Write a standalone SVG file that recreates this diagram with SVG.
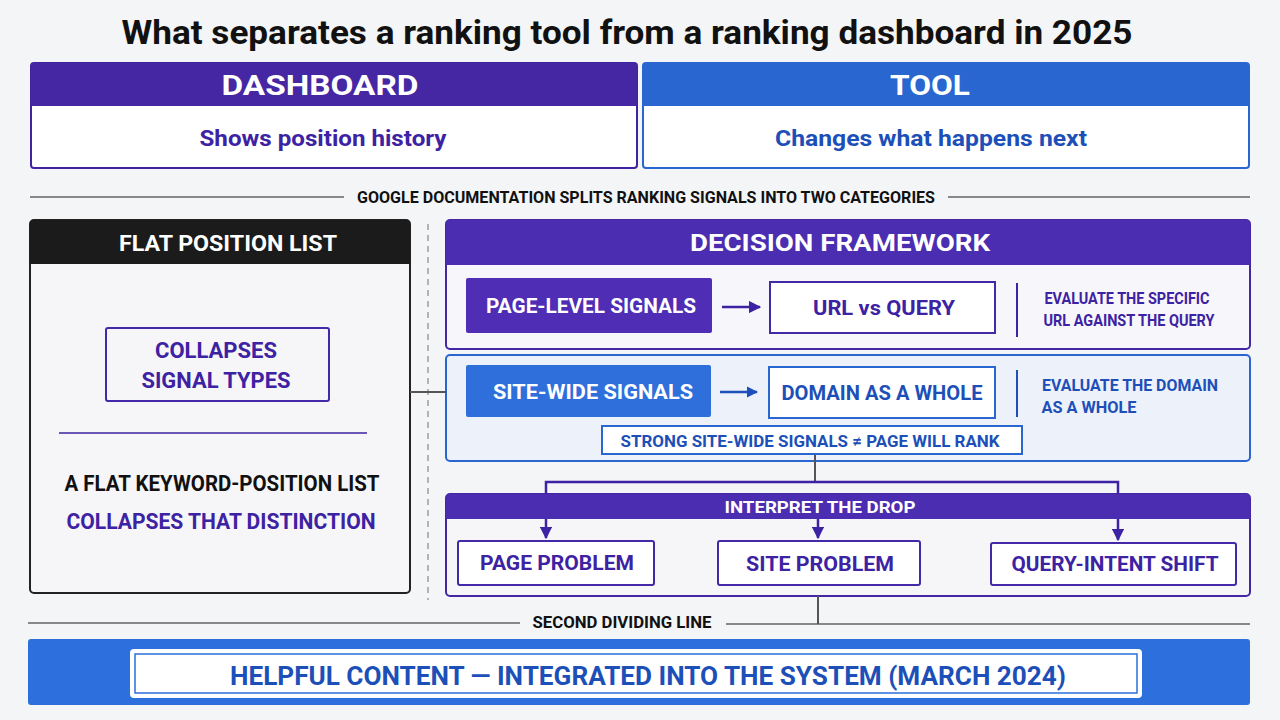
<svg xmlns="http://www.w3.org/2000/svg" width="1280" height="720" viewBox="0 0 1280 720">
<defs>
<style>
text{font-family:Roboto,"Liberation Sans",Arial,sans-serif;font-weight:700;text-anchor:middle;dominant-baseline:central}
.w{fill:#ffffff}
.p{fill:#3d22a3}
.b{fill:#1d4fb8}
.k{fill:#111111}
.pbox{fill:#ffffff;stroke:#4328a8;stroke-width:2}
.bbox{fill:#ffffff;stroke:#2a66d0;stroke-width:2}
.conn{stroke:#555;stroke-width:2;fill:none}
.pconn{stroke:#3d22a3;stroke-width:2.5;fill:none}
</style>
<marker id="ap" viewBox="0 0 10 10" refX="9" refY="5" markerWidth="5" markerHeight="5" orient="auto"><path d="M0,0L10,5L0,10z" fill="#3d22a3"/></marker>
<marker id="ab" viewBox="0 0 10 10" refX="9" refY="5" markerWidth="4.5" markerHeight="4.5" orient="auto"><path d="M0,0L10,5L0,10z" fill="#1d4fb8"/></marker>
</defs>
<rect width="1280" height="720" fill="#f4f5f7"/>
<text x="627" y="32" class="k" font-size="34" textLength="1011" lengthAdjust="spacingAndGlyphs">What separates a ranking tool from a ranking dashboard in 2025</text>

<g id="dashboard">
<rect x="31" y="63" width="606" height="105" rx="3" fill="#fff" stroke="#3f23a0" stroke-width="2"/>
<path d="M31,66a3,3 0 0 1 3,-3h600a3,3 0 0 1 3,3v40h-606z" fill="#4527a4"/>
<text x="320" y="85" class="w" font-size="28" textLength="197" lengthAdjust="spacingAndGlyphs">DASHBOARD</text>
<text x="323" y="138" class="p" font-size="22" textLength="247" lengthAdjust="spacingAndGlyphs">Shows position history</text>
</g>
<g id="tool">
<rect x="643" y="63" width="606" height="105" rx="3" fill="#fff" stroke="#2a66d0" stroke-width="2"/>
<path d="M643,66a3,3 0 0 1 3,-3h600a3,3 0 0 1 3,3v40h-606z" fill="#2a66d0"/>
<text x="930" y="85" class="w" font-size="28" textLength="80" lengthAdjust="spacingAndGlyphs">TOOL</text>
<text x="931" y="138" class="b" font-size="22" textLength="312" lengthAdjust="spacingAndGlyphs">Changes what happens next</text>
</g>

<g id="divider1">
<line x1="30" y1="197" x2="344" y2="197" stroke="#888" stroke-width="2"/>
<line x1="948" y1="197" x2="1250" y2="197" stroke="#888" stroke-width="2"/>
<text x="646" y="197" class="k" font-size="16" textLength="578" lengthAdjust="spacingAndGlyphs">GOOGLE DOCUMENTATION SPLITS RANKING SIGNALS INTO TWO CATEGORIES</text>
</g>

<g id="flatlist">
<rect x="30" y="220" width="380" height="373" rx="4" fill="#f6f6f8" stroke="#222" stroke-width="2"/>
<path d="M30,224a4,4 0 0 1 4,-4h372a4,4 0 0 1 4,4v40h-380z" fill="#1b1b1b"/>
<text x="228" y="243" class="w" font-size="22" textLength="218" lengthAdjust="spacingAndGlyphs">FLAT POSITION LIST</text>
<rect x="106" y="328" width="223" height="73" rx="2" class="pbox" fill="none" style="fill:none"/>
<text x="216" y="350" class="p" font-size="22" textLength="122" lengthAdjust="spacingAndGlyphs">COLLAPSES</text>
<text x="216" y="380" class="p" font-size="22" textLength="149" lengthAdjust="spacingAndGlyphs">SIGNAL TYPES</text>
<line x1="59" y1="433" x2="367" y2="433" stroke="#3d22a3" stroke-width="1.5"/>
<text x="222" y="483" class="k" font-size="22" textLength="315" lengthAdjust="spacingAndGlyphs">A FLAT KEYWORD-POSITION LIST</text>
<text x="221" y="521" class="p" font-size="22" textLength="309" lengthAdjust="spacingAndGlyphs">COLLAPSES THAT DISTINCTION</text>
</g>

<g id="framework">
<rect x="446" y="220" width="804" height="129" rx="4" fill="#f7f7fb" stroke="#4527a4" stroke-width="2"/>
<path d="M446,224a4,4 0 0 1 4,-4h796a4,4 0 0 1 4,4v41h-804z" fill="#4a2db0"/>
<text x="840" y="243" class="w" font-size="24" textLength="300" lengthAdjust="spacingAndGlyphs">DECISION FRAMEWORK</text>
</g>
<g id="page-level">
<rect x="466" y="278" width="246" height="55" rx="2" fill="#4f2db4"/>
<text x="591" y="306" class="w" font-size="20" textLength="210" lengthAdjust="spacingAndGlyphs">PAGE-LEVEL SIGNALS</text>
</g>
<g id="url-query">
<rect x="770" y="282" width="225" height="51" class="pbox"/>
<text x="884" y="308" class="p" font-size="21" textLength="142" lengthAdjust="spacingAndGlyphs">URL vs QUERY</text>
<line x1="1017" y1="283" x2="1017" y2="337" stroke="#3d22a3" stroke-width="2"/>
<text x="1127" y="298" class="p" font-size="16" textLength="165" lengthAdjust="spacingAndGlyphs">EVALUATE THE SPECIFIC</text>
<text x="1129" y="320" class="p" font-size="16" textLength="171" lengthAdjust="spacingAndGlyphs">URL AGAINST THE QUERY</text>
</g>

<g id="site-wide-panel">
<rect x="446" y="355" width="804" height="106" rx="4" fill="#edf1fa" stroke="#2a66d0" stroke-width="2"/>
</g>
<g id="site-wide">
<rect x="466" y="365" width="245" height="52" rx="2" fill="#2f6fdb"/>
<text x="593" y="392" class="w" font-size="20" textLength="200" lengthAdjust="spacingAndGlyphs">SITE-WIDE SIGNALS</text>
</g>
<g id="domain">
<rect x="769" y="367" width="226" height="51" class="bbox"/>
<text x="882" y="393" class="b" font-size="21" textLength="201" lengthAdjust="spacingAndGlyphs">DOMAIN AS A WHOLE</text>
<line x1="1017" y1="370" x2="1017" y2="417" stroke="#1d4fb8" stroke-width="2"/>
<text x="1130" y="385" class="b" font-size="16" textLength="176" lengthAdjust="spacingAndGlyphs">EVALUATE THE DOMAIN</text>
<text x="1089" y="407" class="b" font-size="16" textLength="95" lengthAdjust="spacingAndGlyphs">AS A WHOLE</text>
</g>
<g id="strong-note">
<rect x="602" y="426" width="420" height="28" class="bbox" stroke-width="1.5"/>
<text x="810" y="441" class="b" font-size="17" textLength="379" lengthAdjust="spacingAndGlyphs">STRONG SITE-WIDE SIGNALS ≠ PAGE WILL RANK</text>
</g>

<g id="interpret">
<rect x="446" y="494" width="804" height="102" rx="4" fill="#f6f6f9" stroke="#4527a4" stroke-width="2"/>
<path d="M446,498a4,4 0 0 1 4,-4h796a4,4 0 0 1 4,4v21h-804z" fill="#4a2db0"/>
<text x="820" y="507" class="w" font-size="16" textLength="191" lengthAdjust="spacingAndGlyphs">INTERPRET THE DROP</text>
</g>
<g id="page-problem">
<rect x="458" y="541" width="196" height="44" rx="2" class="pbox"/>
<text x="557" y="563" class="p" font-size="20" textLength="154" lengthAdjust="spacingAndGlyphs">PAGE PROBLEM</text>
</g>
<g id="site-problem">
<rect x="718" y="541" width="202" height="44" rx="2" class="pbox"/>
<text x="820" y="564" class="p" font-size="20" textLength="148" lengthAdjust="spacingAndGlyphs">SITE PROBLEM</text>
</g>
<g id="query-shift">
<rect x="991" y="543" width="245" height="42" rx="2" class="pbox"/>
<text x="1115" y="564" class="p" font-size="20" textLength="207" lengthAdjust="spacingAndGlyphs">QUERY-INTENT SHIFT</text>
</g>

<g id="divider2">
<line x1="28" y1="623" x2="520" y2="623" stroke="#888" stroke-width="2"/>
<line x1="726" y1="624" x2="1250" y2="624" stroke="#888" stroke-width="2"/>
<text x="622" y="622" class="k" font-size="16" textLength="179" lengthAdjust="spacingAndGlyphs">SECOND DIVIDING LINE</text>
</g>

<g id="banner">
<rect x="28" y="639" width="1222" height="66" rx="3" fill="#2d6fdc"/>
<rect x="131" y="650" width="1010" height="47" rx="3" fill="#fff" stroke="#fff" stroke-width="2"/>
<rect x="135" y="654" width="1002" height="39" fill="none" stroke="#2d6fdc" stroke-width="1.5"/>
<text x="648" y="676" class="b" font-size="26" textLength="836" lengthAdjust="spacingAndGlyphs">HELPFUL CONTENT — INTEGRATED INTO THE SYSTEM (MARCH 2024)</text>
</g>

<g id="connectors">
<line x1="428" y1="224" x2="428" y2="600" stroke="#888" stroke-width="1.2" stroke-dasharray="6,5"/>
<line x1="410" y1="392" x2="446" y2="392" class="conn"/>
<line x1="722" y1="307" x2="760" y2="307" class="pconn" marker-end="url(#ap)"/>
<line x1="720" y1="392" x2="757" y2="392" stroke="#1d4fb8" stroke-width="2.5" marker-end="url(#ab)"/>
<line x1="815" y1="455" x2="815" y2="482" class="conn"/>
<path d="M546,494V482H1118V494" class="pconn"/>
<line x1="546" y1="519" x2="546" y2="538" class="pconn" marker-end="url(#ap)"/>
<line x1="818" y1="519" x2="818" y2="538" class="pconn" marker-end="url(#ap)"/>
<line x1="1118" y1="519" x2="1118" y2="540" class="pconn" marker-end="url(#ap)"/>
<line x1="818" y1="596" x2="818" y2="624" class="conn"/>
</g>
</svg>
